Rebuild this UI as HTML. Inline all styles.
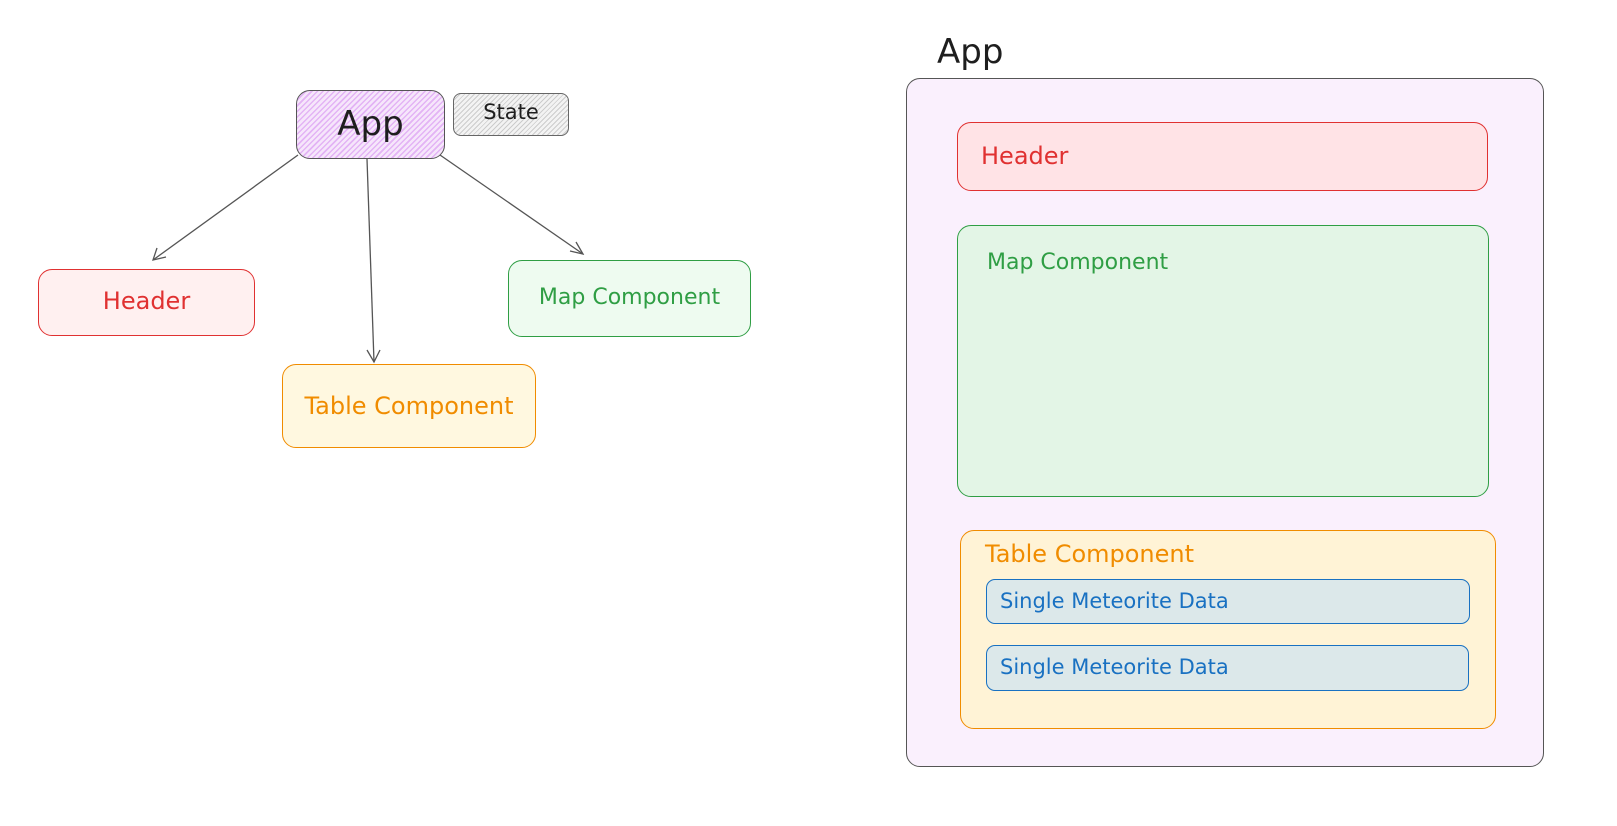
<!DOCTYPE html>
<html><head><meta charset="utf-8"><style>
body{margin:0;width:1617px;height:826px;background:#fff;position:relative;overflow:hidden;font-family:"Comic Sans MS","DejaVu Sans",sans-serif}
.b{position:absolute;box-sizing:border-box;border:1.5px solid;border-radius:14px}
.t{position:absolute;white-space:nowrap;font-size:24px}
</style></head><body>
<svg width="1617" height="826" style="position:absolute;left:0;top:0">
<g stroke="#555" stroke-width="1.3" fill="none">
<line x1="298" y1="155" x2="153" y2="260"/><polyline points="157,248 153,260 166,257"/>
<line x1="367" y1="159" x2="374" y2="362"/><polyline points="367,350 374,362 380,350"/>
<line x1="440" y1="155" x2="583" y2="254"/><polyline points="570,251 583,254 576,242"/>
</g></svg>
<div class="b" style="left:296px;top:90px;width:149px;height:69px;border-color:#555;background:repeating-linear-gradient(-45deg,#e3b3f5 0 1.5px,#f6e6fb 1.5px 4px)"></div>
<div class="t" style="left:296px;top:104px;width:149px;text-align:center;font-size:34px;color:#1e1e1e">App</div>
<div class="b" style="left:453px;top:93px;width:116px;height:43px;border-color:#666;border-radius:8px;background:repeating-linear-gradient(-45deg,#ccc 0 1px,#f3f3f3 1px 3.5px)"></div>
<div class="t" style="left:453px;top:100px;width:116px;text-align:center;font-size:21px;color:#1e1e1e">State</div>
<div class="b" style="left:38px;top:269px;width:217px;height:67px;border-color:#e03131;background:#fff0f0"></div>
<div class="t" style="left:38px;top:287px;width:217px;text-align:center;color:#e03131">Header</div>
<div class="b" style="left:282px;top:364px;width:254px;height:84px;border-color:#f08c00;background:#fff8e0"></div>
<div class="t" style="left:282px;top:392px;width:254px;text-align:center;color:#f08c00">Table Component</div>
<div class="b" style="left:508px;top:260px;width:243px;height:77px;border-color:#2f9e44;background:#eefbf0"></div>
<div class="t" style="left:508px;top:285px;width:243px;text-align:center;font-size:22px;color:#2f9e44">Map Component</div>

<div class="t" style="left:937px;top:32px;font-size:34px;color:#1e1e1e">App</div>
<div class="b" style="left:906px;top:78px;width:638px;height:689px;border-color:#555;background:#faf0fd"></div>
<div class="b" style="left:957px;top:122px;width:531px;height:69px;border-color:#e03131;background:#ffe3e6"></div>
<div class="t" style="left:981px;top:142px;color:#e03131">Header</div>
<div class="b" style="left:957px;top:225px;width:532px;height:272px;border-color:#2f9e44;background:#e3f5e6"></div>
<div class="t" style="left:987px;top:250px;font-size:22px;color:#2f9e44">Map Component</div>
<div class="b" style="left:960px;top:530px;width:536px;height:199px;border-color:#f08c00;background:#fff3d6"></div>
<div class="t" style="left:985px;top:540px;color:#f08c00">Table Component</div>
<div class="b" style="left:986px;top:579px;width:484px;height:45px;border-color:#1971c2;border-radius:9px;background:#dce8ea"></div>
<div class="t" style="left:1000px;top:589px;font-size:21px;color:#1971c2">Single Meteorite Data</div>
<div class="b" style="left:986px;top:645px;width:483px;height:46px;border-color:#1971c2;border-radius:9px;background:#dce8ea"></div>
<div class="t" style="left:1000px;top:655px;font-size:21px;color:#1971c2">Single Meteorite Data</div>
</body></html>
